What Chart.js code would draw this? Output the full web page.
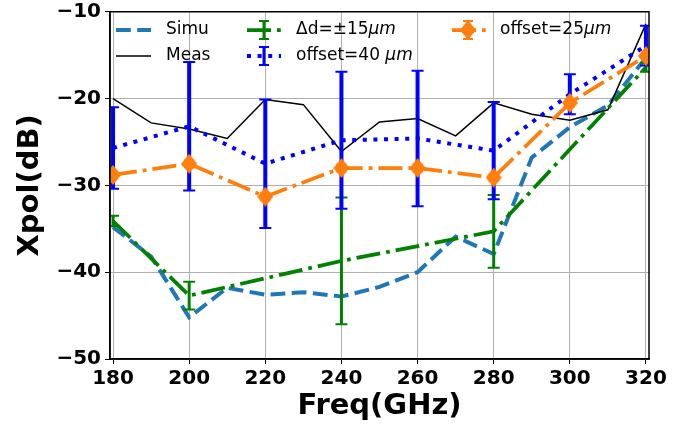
<!DOCTYPE html>
<html>
<head>
<meta charset="utf-8">
<script src="https://cdn.jsdelivr.net/npm/chart.js@4/dist/chart.umd.min.js"></script>
<style>
  body { margin: 0; background: #fff; }
  #wrap { width: 697px; height: 426px; }
</style>
</head>
<body>
<div id="wrap"><canvas id="myChart" width="697" height="426"></canvas></div>
<script>
// frequencies (GHz)
var freq = [180, 190, 200, 210, 220, 230, 240, 250, 260, 270, 280, 290, 300, 310, 320];
var freqStep = [180, 200, 220, 240, 260, 280, 300, 320];
var freqDelta = [180, 200, 240, 280, 320];

// Xpol (dB)
var simu = [-34.8, -38.2, -45.2, -41.8, -42.6, -42.3, -42.8, -41.7, -40.0, -35.9, -37.9, -26.8, -23.3, -20.8, -15.3];
var meas = [-20.0, -22.8, -23.5, -24.6, -20.1, -20.7, -26.1, -22.7, -22.3, -24.3, -20.5, -21.8, -22.5, -21.3, -11.4];
var delta = [-34.1, -42.7, -38.7, -35.3, -16.4];
var deltaErr = [0.6, 1.6, 7.3, 4.2, 0.5];
var off40 = [-25.7, -23.2, -27.5, -24.8, -24.6, -26.0, -19.5, -13.9];
var off40Err = [4.7, 7.4, 7.4, 7.9, 7.8, 5.6, 2.3, 2.3];
var off25 = [-28.8, -27.5, -31.3, -28.0, -28.0, -29.1, -20.5, -15.1];
var off25Err = [0.4, 0.4, 0.4, 0.4, 0.4, 0.4, 0.4, 0.4];

var xTicks = [180, 200, 220, 240, 260, 280, 300, 320];
var yTicks = [-50, -40, -30, -20, -10];

function pts(xs, ys) {
  return xs.map(function (x, i) { return {x: x, y: ys[i]}; });
}

var FONT = "'DejaVu Sans', sans-serif";
var DASHED = [14.8, 6.4];
var DOTTED = [4, 6.6];
var DASHDOT = [24, 6, 3.75, 6];

// thin diamond marker
var diamond = document.createElement('canvas');
diamond.width = 16; diamond.height = 20;
(function () {
  var c = diamond.getContext('2d');
  c.fillStyle = '#ff7f0e';
  c.beginPath();
  c.moveTo(8, 0); c.lineTo(16, 10); c.lineTo(8, 20); c.lineTo(0, 10);
  c.closePath(); c.fill();
})();

function errBar(ctx, x, y1, y2, color, lw, capHalf) {
  ctx.save();
  ctx.strokeStyle = color;
  ctx.setLineDash([]);
  ctx.lineWidth = lw;
  ctx.beginPath();
  ctx.moveTo(x, y1); ctx.lineTo(x, y2);
  ctx.stroke();
  ctx.lineWidth = 2;
  ctx.beginPath();
  ctx.moveTo(x - capHalf, y1); ctx.lineTo(x + capHalf, y1);
  ctx.moveTo(x - capHalf, y2); ctx.lineTo(x + capHalf, y2);
  ctx.stroke();
  ctx.restore();
}

var errorBars = {
  id: 'errorBars',
  beforeDatasetDraw: function (chart, args) {
    var ds = chart.data.datasets[args.index];
    if (!ds.err) return;
    var xs = chart.scales.x, ys = chart.scales.y, ctx = chart.ctx;
    var a = chart.chartArea;
    ctx.save();
    ctx.beginPath();
    ctx.rect(a.left, a.top, a.right - a.left, a.bottom - a.top);
    ctx.clip();
    ds.data.forEach(function (p, i) {
      var px = xs.getPixelForValue(p.x);
      errBar(ctx, px, ys.getPixelForValue(p.y + ds.err[i]), ys.getPixelForValue(p.y - ds.err[i]),
             ds.borderColor, ds.errWidth, ds.capHalf);
    });
    ctx.restore();
  }
};

function seg(ctx, x1, x2, y, color, lw, dash) {
  ctx.save();
  ctx.strokeStyle = color; ctx.lineWidth = lw; ctx.setLineDash(dash);
  ctx.beginPath(); ctx.moveTo(x1, y); ctx.lineTo(x2, y); ctx.stroke();
  ctx.restore();
}

function label(ctx, x, y, parts) {
  ctx.save();
  ctx.fillStyle = '#000';
  ctx.textBaseline = 'middle';
  parts.forEach(function (p) {
    ctx.font = (p[1] ? 'italic ' : '') + '17px ' + FONT;
    ctx.fillText(p[0], x, y);
    x += ctx.measureText(p[0]).width;
  });
  ctx.restore();
}

var frameAndLegend = {
  id: 'frameAndLegend',
  afterDraw: function (chart) {
    var ctx = chart.ctx, a = chart.chartArea;
    ctx.save();
    ctx.strokeStyle = '#000'; ctx.lineWidth = 1.5;
    ctx.strokeRect(a.left, a.top, a.right - a.left, a.bottom - a.top);
    ctx.restore();

    // legend, three columns
    seg(ctx, 116, 151, 30, '#1f77b4', 4, DASHED);
    label(ctx, 166, 30, [['Simu']]);
    seg(ctx, 116, 151, 56, '#000000', 1.5, []);
    label(ctx, 166, 56, [['Meas']]);

    seg(ctx, 247, 281, 30, 'green', 3.75, DASHDOT);
    errBar(ctx, 264, 21, 39, 'green', 3, 5);
    label(ctx, 296, 30, [['\u0394d=\u00b115'], ['\u03bcm', true]]);
    seg(ctx, 247, 281, 56, 'blue', 4, DOTTED);
    errBar(ctx, 264, 47, 65, 'blue', 3, 5);
    label(ctx, 296, 56, [['offset=40 '], ['\u03bcm', true]]);

    seg(ctx, 452, 486, 30, '#ff7f0e', 3.75, DASHDOT);
    errBar(ctx, 468, 21, 39, '#ff7f0e', 3, 5);
    ctx.drawImage(diamond, 460, 20);
    label(ctx, 500, 30, [['offset=25'], ['\u03bcm', true]]);
  }
};

new Chart('myChart', {
  type: 'line',
  data: {
    datasets: [
      {label: 'Simu', data: pts(freq, simu), borderColor: '#1f77b4', borderWidth: 4,
       borderDash: DASHED, pointRadius: 0, order: 5},
      {label: 'Meas', data: pts(freq, meas), borderColor: '#000000', borderWidth: 1.5,
       pointRadius: 0, order: 4},
      {label: '\u0394d=\u00b115\u03bcm', data: pts(freqDelta, delta), err: deltaErr,
       borderColor: 'green', borderWidth: 3.75, borderDash: DASHDOT, pointRadius: 0,
       errWidth: 3, capHalf: 6, order: 3},
      {label: 'offset=40 \u03bcm', data: pts(freqStep, off40), err: off40Err,
       borderColor: 'blue', borderWidth: 4, borderDash: DOTTED, pointRadius: 0,
       errWidth: 4, capHalf: 6, order: 2},
      {label: 'offset=25\u03bcm', data: pts(freqStep, off25), err: off25Err,
       borderColor: '#ff7f0e', borderWidth: 3.75, borderDash: DASHDOT,
       pointStyle: diamond, pointRadius: 8, errWidth: 3, capHalf: 5, order: 1}
    ]
  },
  options: {
    responsive: false,
    animation: false,
    layout: {padding: {top: 10, right: 48, left: 0, bottom: 0}},
    plugins: {legend: {display: false}, tooltip: {enabled: false}},
    scales: {
      x: {
        type: 'linear', min: 179.2, max: 320.8,
        afterBuildTicks: function (s) { s.ticks = xTicks.map(function (v) { return {value: v}; }); },
        afterFit: function (s) { s.height = 67; },
        grid: {color: '#b0b0b0', lineWidth: 1, tickLength: 5, tickColor: '#000'},
        border: {color: '#000', width: 1.5},
        ticks: {color: '#000', padding: 3, maxRotation: 0, font: {family: FONT, size: 20, weight: 'bold'}},
        title: {display: true, text: 'Freq(GHz)', color: '#000', padding: {top: 0, bottom: 5},
                font: {family: FONT, size: 29, weight: 'bold', lineHeight: 1}}
      },
      y: {
        type: 'linear', min: -50, max: -10,
        afterBuildTicks: function (s) { s.ticks = yTicks.map(function (v) { return {value: v}; }); },
        afterFit: function (s) { s.width = 110; },
        grid: {color: '#b0b0b0', lineWidth: 1, tickLength: 5, tickColor: '#000'},
        border: {color: '#000', width: 1.5},
        ticks: {color: '#000', padding: 4, font: {family: FONT, size: 20, weight: 'bold', lineHeight: 0.6},
                callback: function (v) { return String(v).replace('-', '\u2212'); }},
        title: {display: true, text: 'Xpol(dB)', color: '#000', padding: {top: 16, bottom: 0},
                font: {family: FONT, size: 29, weight: 'bold', lineHeight: 1}}
      }
    }
  },
  plugins: [errorBars, frameAndLegend]
});
</script>
</body>
</html>
